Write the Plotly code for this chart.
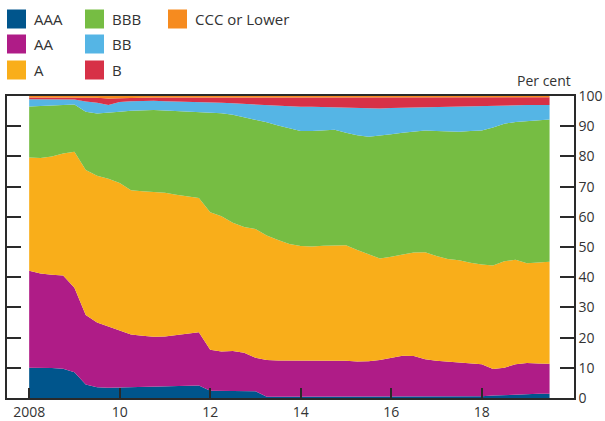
import plotly.graph_objects as go

# Quarterly observations, 2008 to mid-2019 (decimal years)
dates = [2008 + 0.25 * k for k in range(47)]

ratings = ["AAA", "AA", "A", "BBB", "BB", "B", "CCC or Lower"]
colors = ["#00558C", "#AF1C87", "#F9AE1A", "#76BD43", "#55B5E5", "#D73147", "#F68B1F"]

# Share of outstanding bonds by rating, per cent
aaa = [10.0, 10.0, 9.9, 9.7, 8.5, 4.5, 3.6, 3.4, 3.5, 3.5, 3.6, 3.7, 3.8, 3.9, 4.0, 4.1,
       2.4, 2.3, 2.3, 2.3, 2.2, 0.4, 0.4, 0.4, 0.4, 0.4, 0.4, 0.4, 0.4, 0.4, 0.4, 0.4,
       0.4, 0.4, 0.4, 0.4, 0.4, 0.4, 0.4, 0.5, 0.6, 0.8, 1.0, 1.2, 1.3, 1.4, 1.4]
aa = [32.1, 31.2, 30.9, 30.9, 28.0, 23.0, 21.4, 20.2, 18.8, 17.5, 17.0, 16.6, 16.6, 16.9, 17.2, 17.7,
      13.6, 13.1, 13.3, 12.7, 11.1, 12.2, 12.0, 12.0, 12.0, 11.8, 11.9, 12.0, 11.9, 11.7, 11.8, 12.2,
      12.8, 13.6, 13.5, 12.4, 11.9, 11.6, 11.4, 11.1, 10.6, 8.8, 9.0, 10.0, 10.3, 10.0, 9.9]
a = [37.5, 38.3, 39.2, 40.4, 45.0, 48.0, 48.6, 49.0, 48.9, 47.8, 47.9, 48.0, 47.6, 46.5, 45.5, 44.4,
     45.5, 44.8, 42.4, 41.6, 42.7, 41.2, 39.9, 38.6, 37.9, 38.0, 38.1, 38.2, 38.3, 36.9, 35.4, 33.6,
     33.6, 33.5, 34.3, 35.5, 34.7, 34.0, 33.8, 33.2, 33.0, 34.3, 35.3, 34.6, 33.0, 33.5, 33.8]
bbb = [16.9, 17.1, 16.8, 16.0, 15.7, 19.3, 20.6, 21.8, 23.6, 26.3, 26.8, 27.1, 27.2, 27.7, 28.2, 28.6,
       33.1, 34.1, 35.8, 36.4, 36.3, 37.5, 37.9, 38.2, 38.1, 38.2, 38.2, 38.2, 37.2, 38.0, 38.9, 40.6,
       40.5, 40.3, 40.1, 40.3, 41.4, 42.2, 42.6, 43.6, 44.4, 45.7, 45.5, 45.6, 47.1, 47.1, 47.1]
bb = [2.4, 2.3, 2.1, 1.9, 1.6, 3.4, 3.6, 2.6, 3.2, 3.2, 3.1, 3.0, 3.1, 3.2, 3.3, 3.4,
      3.4, 3.5, 3.8, 4.4, 4.7, 5.5, 6.4, 7.3, 8.0, 8.0, 7.7, 7.5, 8.3, 8.9, 9.3, 9.1,
      8.7, 8.3, 7.9, 7.7, 8.0, 8.3, 8.4, 8.2, 8.0, 7.1, 6.0, 5.5, 5.3, 5.0, 4.8]
b = [0.6, 0.6, 0.6, 0.6, 0.7, 1.3, 1.6, 2.2, 1.2, 1.0, 1.0, 1.1, 1.2, 1.3, 1.3, 1.3,
     1.6, 1.8, 2.0, 2.2, 2.6, 2.8, 3.0, 3.1, 3.2, 3.2, 3.3, 3.3, 3.5, 3.7, 3.8, 3.7,
     3.6, 3.5, 3.4, 3.3, 3.2, 3.1, 3.0, 3.0, 3.0, 2.9, 2.8, 2.7, 2.6, 2.6, 2.6]
ccc = [0.5, 0.5, 0.5, 0.5, 0.5, 0.5, 0.6, 0.8, 0.8, 0.7, 0.6, 0.5, 0.5, 0.5, 0.5, 0.5,
       0.4, 0.4, 0.4, 0.4, 0.4, 0.4, 0.4, 0.4, 0.4, 0.4, 0.4, 0.4, 0.4, 0.4, 0.4, 0.4,
       0.4, 0.4, 0.4, 0.4, 0.4, 0.4, 0.4, 0.4, 0.4, 0.4, 0.4, 0.4, 0.4, 0.4, 0.4]

series = [aaa, aa, a, bbb, bb, b, ccc]

x_ticks = [2008, 2010, 2012, 2014, 2016, 2018]
x_ticktext = ["2008", "10", "12", "14", "16", "18"]
y_ticks = list(range(0, 101, 10))

W, H = 605, 421
ML, MR, MT, MB = 7, 31, 96, 23
PW, PH = W - ML - MR, H - MT - MB
FONT = "Open Sans, Noto Sans, sans-serif"
TEXT = "#333333"
AXIS = "#2a2a2a"


def px_x(p):
    return (p - ML) / PW


def px_y(p):
    return (H - MB - p) / PH


fig = go.Figure()
for name, vals, col in zip(ratings, series, colors):
    fig.add_trace(go.Scatter(
        x=dates, y=vals, name=name, mode="lines",
        stackgroup="ratings", line=dict(width=0, color=col),
        fillcolor=col, showlegend=False, hoverinfo="x+y+name",
    ))

# Legend drawn as three columns of square swatches with labels
col_x = [7, 85, 168]
row_y = [19, 44, 70]
shapes, annotations = [], []
for i, (name, col) in enumerate(zip(ratings, colors)):
    c, r = divmod(i, 3)
    x0, yc = col_x[c], row_y[r]
    shapes.append(dict(type="rect", xref="paper", yref="paper",
                       x0=px_x(x0), x1=px_x(x0 + 19),
                       y0=px_y(yc + 9.5), y1=px_y(yc - 9.5),
                       fillcolor=col, line=dict(width=0)))
    annotations.append(dict(xref="paper", yref="paper", x=px_x(x0 + 25), y=px_y(yc),
                            text=name, showarrow=False, xanchor="left", yanchor="middle",
                            font=dict(family=FONT, size=15, color=TEXT)))

annotations.append(dict(xref="paper", yref="paper", x=px_x(573), y=px_y(92),
                        text="Per cent", showarrow=False, xanchor="right", yanchor="bottom",
                        font=dict(family=FONT, size=14, color=TEXT)))

fig.update_layout(
    width=W, height=H,
    margin=dict(l=ML, r=MR, t=MT, b=MB, pad=0),
    paper_bgcolor="white", plot_bgcolor="white",
    font=dict(family=FONT, size=14, color=TEXT),
    shapes=shapes, annotations=annotations,
    xaxis=dict(range=[2007.51, 2020.04], tickvals=x_ticks, ticktext=x_ticktext,
               ticks="inside", ticklen=10, tickwidth=1.5, tickcolor=AXIS,
               showline=True, linecolor=AXIS, linewidth=1.5, mirror=True,
               showgrid=False, zeroline=False, automargin=False,
               tickfont=dict(family=FONT, size=14, color=TEXT)),
    yaxis=dict(range=[0, 100], tickvals=y_ticks, side="right",
               ticks="inside", ticklen=14, tickwidth=1.5, tickcolor=AXIS,
               showline=True, linecolor=AXIS, linewidth=1.5, mirror="ticks",
               showgrid=False, zeroline=False, automargin=False,
               tickfont=dict(family=FONT, size=14, color=TEXT)),
)

fig.write_html("out.html")
